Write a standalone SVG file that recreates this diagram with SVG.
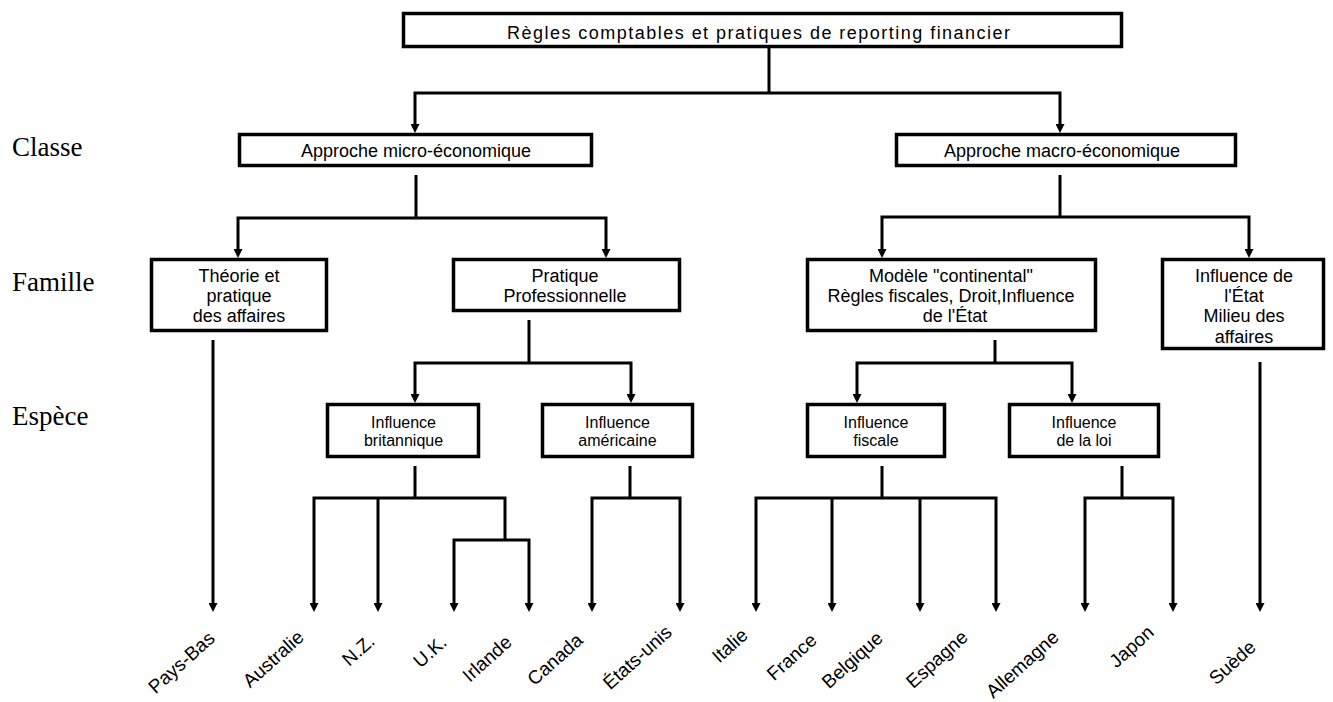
<svg xmlns="http://www.w3.org/2000/svg" width="1333" height="702" viewBox="0 0 1333 702">
<defs>
<marker id="ah" viewBox="0 0 9 9" refX="0" refY="4.5" markerWidth="9" markerHeight="9" markerUnits="userSpaceOnUse" orient="auto">
<path d="M0,0 L9,4.5 L0,9 Z" fill="#000"/>
</marker>
<style>
.box{fill:#fff;stroke:#000;stroke-width:3.5}
.t{font-family:"Liberation Sans",Arial,sans-serif;font-size:18px;fill:#000;text-anchor:middle}
.s{font-size:16px}
.lvl{font-family:"Liberation Serif","Times New Roman",serif;font-size:27px;fill:#000}
.lab{font-family:"Liberation Sans",Arial,sans-serif;font-size:19px;fill:#000;text-anchor:end}
.c{fill:none;stroke:#000;stroke-width:3;stroke-linejoin:miter}
.a{marker-end:url(#ah)}
</style>
</defs>
<rect width="1333" height="702" fill="#fff"/>

<g id="levels">
<text class="lvl" x="12" y="156">Classe</text>
<text class="lvl" x="12" y="291">Famille</text>
<text class="lvl" x="12" y="425">Espèce</text>
</g>

<g id="connectors">
<path class="c" d="M769,48 V93"/>
<path class="c a" d="M769,93 H415 V124"/>
<path class="c a" d="M769,93 H1060 V124"/>
<path class="c" d="M416,175 V218"/>
<path class="c a" d="M416,218 H238 V249"/>
<path class="c a" d="M416,218 H606 V249"/>
<path class="c" d="M1060,175 V217"/>
<path class="c a" d="M1060,217 H882 V249"/>
<path class="c a" d="M1060,217 H1249 V249"/>
<path class="c a" d="M213,340 V603"/>
<path class="c" d="M529,320 V363"/>
<path class="c a" d="M529,363 H415 V394"/>
<path class="c a" d="M529,363 H631 V394"/>
<path class="c" d="M995,340 V363"/>
<path class="c a" d="M995,363 H857 V394"/>
<path class="c a" d="M995,363 H1072 V394"/>
<path class="c a" d="M1260,362 V603"/>
<path class="c" d="M415,466 V498"/>
<path class="c a" d="M415,498 H314 V603"/>
<path class="c a" d="M378,498 V603"/>
<path class="c" d="M415,498 H505 V540"/>
<path class="c a" d="M505,540 H454 V603"/>
<path class="c a" d="M505,540 H529 V603"/>
<path class="c" d="M630,466 V498"/>
<path class="c a" d="M630,498 H592 V603"/>
<path class="c a" d="M630,498 H680 V603"/>
<path class="c" d="M882,466 V498"/>
<path class="c a" d="M882,498 H756 V603"/>
<path class="c a" d="M832,498 V603"/>
<path class="c a" d="M920,498 V603"/>
<path class="c a" d="M882,498 H996 V603"/>
<path class="c" d="M1122,466 V498"/>
<path class="c a" d="M1122,498 H1085 V603"/>
<path class="c a" d="M1122,498 H1173 V603"/>
</g>

<g id="n-root">
<rect class="box" x="403.5" y="13.5" width="718" height="33"/>
<text class="t" x="758.5" y="39" textLength="503" lengthAdjust="spacing">Règles comptables et pratiques de reporting financier</text>
</g>
<g id="n-micro">
<rect class="box" x="239.5" y="134.5" width="352" height="31"/>
<text class="t" x="416" y="156.5">Approche micro-économique</text>
</g>
<g id="n-macro">
<rect class="box" x="896.5" y="134.5" width="339" height="31"/>
<text class="t" x="1062" y="156.5">Approche macro-économique</text>
</g>
<g id="n-theorie">
<rect class="box" x="151.5" y="259.5" width="175" height="71"/>
<text class="t" x="239" y="282">Théorie et</text>
<text class="t" x="239" y="302">pratique</text>
<text class="t" x="239" y="322">des affaires</text>
</g>
<g id="n-pratique">
<rect class="box" x="453.5" y="259.5" width="226" height="51"/>
<text class="t" x="565" y="282">Pratique</text>
<text class="t" x="565" y="302">Professionnelle</text>
</g>
<g id="n-modele">
<rect class="box" x="807.5" y="259.5" width="288" height="71"/>
<text class="t" x="951" y="282">Modèle "continental"</text>
<text class="t" x="951" y="302">Règles fiscales, Droit,Influence</text>
<text class="t" x="955" y="322">de l'État</text>
</g>
<g id="n-etat">
<rect class="box" x="1162.5" y="259.5" width="161" height="89"/>
<text class="t" x="1244" y="282">Influence de</text>
<text class="t" x="1244" y="302">l'État</text>
<text class="t" x="1244" y="322">Milieu des</text>
<text class="t" x="1244" y="343">affaires</text>
</g>
<g id="n-brit">
<rect class="box" x="327.5" y="404.5" width="151" height="52"/>
<text class="t s" x="403.5" y="428">Influence</text>
<text class="t s" x="403.5" y="446">britannique</text>
</g>
<g id="n-amer">
<rect class="box" x="542.5" y="404.5" width="150" height="52"/>
<text class="t s" x="617.5" y="428">Influence</text>
<text class="t s" x="617.5" y="446">américaine</text>
</g>
<g id="n-fiscale">
<rect class="box" x="807.5" y="404.5" width="137" height="52"/>
<text class="t s" x="876" y="428">Influence</text>
<text class="t s" x="876" y="446">fiscale</text>
</g>
<g id="n-loi">
<rect class="box" x="1009.5" y="404.5" width="149" height="52"/>
<text class="t s" x="1084" y="428">Influence</text>
<text class="t s" x="1084" y="446">de la loi</text>
</g>

<g id="leaves">
<text class="lab" x="216" y="640" transform="rotate(-42 216 640)">Pays-Bas</text>
<text class="lab" x="305" y="639" transform="rotate(-42 305 639)">Australie</text>
<text class="lab" x="376" y="643" transform="rotate(-42 376 643)">N.Z.</text>
<text class="lab" x="448" y="644" transform="rotate(-42 448 644)">U.K.</text>
<text class="lab" x="513" y="644" transform="rotate(-42 513 644)">Irlande</text>
<text class="lab" x="584" y="642" transform="rotate(-42 584 642)">Canada</text>
<text class="lab" x="673" y="634" transform="rotate(-42 673 634)">États-unis</text>
<text class="lab" x="749" y="637" transform="rotate(-42 749 637)">Italie</text>
<text class="lab" x="818" y="642" transform="rotate(-42 818 642)">France</text>
<text class="lab" x="884" y="640" transform="rotate(-42 884 640)">Belgique</text>
<text class="lab" x="969" y="639" transform="rotate(-42 969 639)">Espagne</text>
<text class="lab" x="1060" y="639" transform="rotate(-42 1060 639)">Allemagne</text>
<text class="lab" x="1155" y="634" transform="rotate(-42 1155 634)">Japon</text>
<text class="lab" x="1257" y="649" transform="rotate(-42 1257 649)">Suède</text>
</g>
</svg>
